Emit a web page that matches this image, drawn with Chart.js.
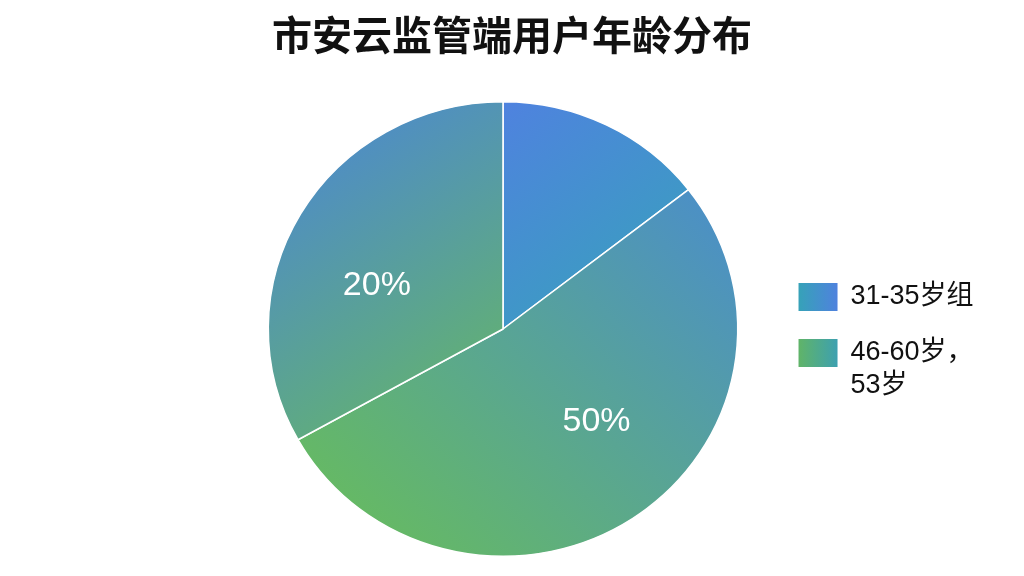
<!DOCTYPE html>
<html><head><meta charset="utf-8">
<script src="https://cdn.jsdelivr.net/npm/chart.js@4.4.1/dist/chart.umd.min.js"></script>
<style>html,body{margin:0;padding:0;background:#fff;overflow:hidden}#wrap{width:1024px;height:576px;position:relative}</style>
</head><body><div id="wrap"><canvas id="c"></canvas></div>
<script>
// ---- data ----
const titleText = "市安云监管端用户年龄分布";
const categories = ["31-35岁组", "46-60岁，53岁", "其他"];
const shares = [14.5, 52.4, 33.1];
const pctLabels = ["", "50%", "20%"];
const legendLines = [["31-35岁组"], ["46-60岁，", "53岁"]];

// ---- style ----
const sliceStops = [["#4f82df", "#36a4b9"], ["#4a8dcc", "#66ba62"], ["#4a84da", "#66b862"]];
const sliceDir = [[0, 0, 1, 1], [1, 0, 0.2, 1], [0, 0, 1, 1]];
const legendStops = [["#36a2b8", "#4f82de"], ["#60b468", "#3da0b0"]];
const stretchX = 1.033;      // reference pie is slightly wider than tall
const labelShift = -0.19;    // label angle offset (rad)
const labelRadius = 0.57;

function geom(chart) {
  const a = chart.chartArea;
  return { cx: (a.left + a.right) / 2, cy: (a.top + a.bottom) / 2, r: Math.min(a.right - a.left, a.bottom - a.top) / 2 };
}
function sliceBg(ctx) {
  const chart = ctx.chart, i = ctx.dataIndex;
  if (!chart.chartArea || i === undefined) return sliceStops[i || 0][0];
  const { cx, cy, r } = geom(chart);
  const total = shares.reduce((s, v) => s + v, 0);
  let cum = 0; for (let k = 0; k < i; k++) cum += shares[k];
  const a0 = -Math.PI / 2 + 2 * Math.PI * cum / total;
  const a1 = a0 + 2 * Math.PI * shares[i] / total;
  const xs = [cx, cx + r * Math.cos(a0), cx + r * Math.cos(a1)];
  const ys = [cy, cy + r * Math.sin(a0), cy + r * Math.sin(a1)];
  for (let k = -4; k < 8; k++) { const a = k * Math.PI / 2; if (a > a0 && a < a1) { xs.push(cx + r * Math.cos(a)); ys.push(cy + r * Math.sin(a)); } }
  const x0 = Math.min(...xs), x1 = Math.max(...xs), y0 = Math.min(...ys), y1 = Math.max(...ys);
  const d = sliceDir[i];
  const g = chart.ctx.createLinearGradient(x0 + d[0] * (x1 - x0), y0 + d[1] * (y1 - y0), x0 + d[2] * (x1 - x0), y0 + d[3] * (y1 - y0));
  g.addColorStop(0, sliceStops[i][0]); g.addColorStop(1, sliceStops[i][1]);
  return g;
}

const stretchPlugin = {
  id: 'stretch',
  beforeDatasetsDraw(chart) {
    const { cx, cy } = geom(chart), c = chart.ctx;
    c.save(); c.translate(cx, cy); c.scale(stretchX, 1); c.translate(-cx, -cy);
  },
  afterDatasetsDraw(chart) { chart.ctx.restore(); }
};
const labelPlugin = {
  id: 'pctLabels',
  afterDatasetsDraw(chart) {
    const c = chart.ctx, meta = chart.getDatasetMeta(0);
    c.save();
    c.fillStyle = '#ffffff';
    c.font = '34px "Liberation Sans", Arial, sans-serif';
    c.textAlign = 'center'; c.textBaseline = 'middle';
    meta.data.forEach((arc, i) => {
      if (!pctLabels[i]) return;
      const p = arc.getProps(['x', 'y', 'startAngle', 'endAngle', 'outerRadius'], true);
      const m = (p.startAngle + p.endAngle) / 2 + labelShift, rr = p.outerRadius * labelRadius;
      c.fillText(pctLabels[i], p.x + stretchX * rr * Math.cos(m), p.y + rr * Math.sin(m));
    });
    c.restore();
  }
};
const titlePlugin = {
  id: 'centerTitle',
  afterDraw(chart) {
    const c = chart.ctx;
    c.save();
    c.font = 'bold 40px "Noto Sans CJK SC", sans-serif';
    c.fillStyle = '#111'; c.textAlign = 'center'; c.textBaseline = 'middle';
    c.fillText(titleText, chart.width / 2, 35);
    c.restore();
  }
};
const legendPlugin = {
  id: 'sideLegend',
  afterDraw(chart) {
    const c = chart.ctx, { cx, cy, r } = geom(chart);
    const sx = cx + r * stretchX + 60, sw = 39, sh = 28, tx = sx + 52;
    let top = cy - 46;
    c.save();
    c.font = '27px "Liberation Sans", "Noto Sans CJK SC", sans-serif';
    c.textBaseline = 'middle'; c.textAlign = 'left';
    legendLines.forEach((lines, i) => {
      const g = c.createLinearGradient(sx, 0, sx + sw, 0);
      g.addColorStop(0, legendStops[i][0]); g.addColorStop(1, legendStops[i][1]);
      c.fillStyle = g; c.fillRect(sx, top, sw, sh);
      c.fillStyle = '#111';
      lines.forEach((t, j) => c.fillText(t, tx, top + sh / 2 + j * 33));
      top += 56;
    });
    c.restore();
  }
};

new Chart(document.getElementById('c'), {
  type: 'pie',
  data: { labels: categories, datasets: [{ data: shares, backgroundColor: sliceBg, borderColor: '#ffffff', borderWidth: 1.5, hoverOffset: 0 }] },
  options: {
    responsive: true, maintainAspectRatio: false, animation: false,
    layout: { padding: { left: 20, right: 38, top: 101, bottom: 19 } },
    plugins: { legend: { display: false }, tooltip: { enabled: false }, title: { display: false } }
  },
  plugins: [stretchPlugin, labelPlugin, titlePlugin, legendPlugin]
});
</script></body></html>
